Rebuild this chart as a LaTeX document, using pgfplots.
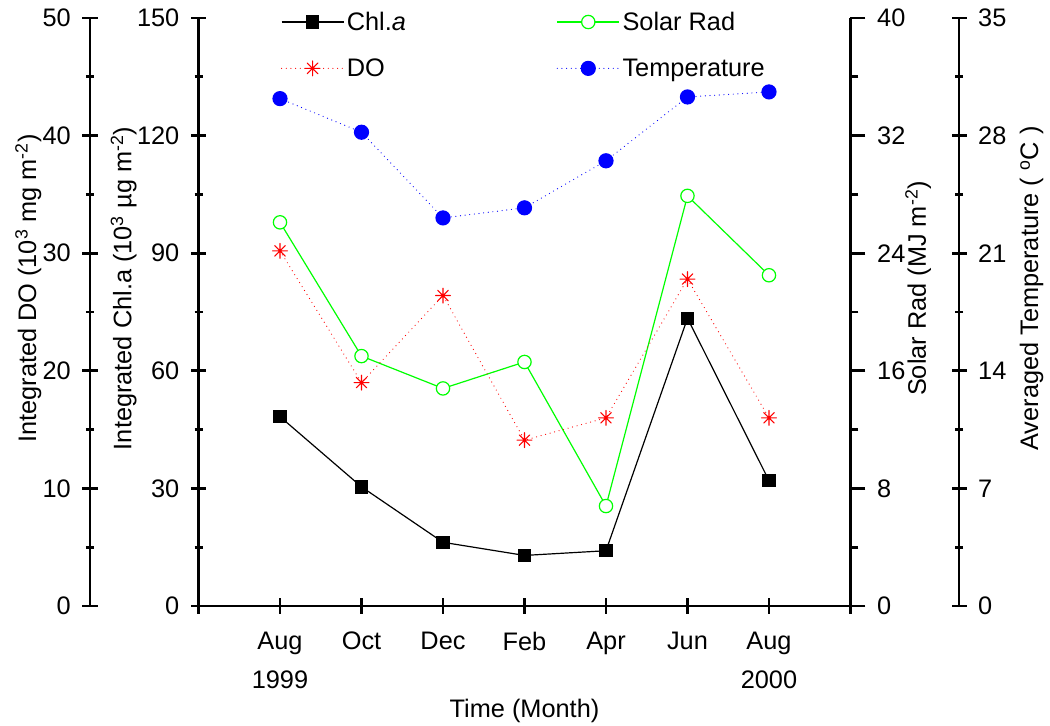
\documentclass[border=0pt]{standalone}
\usepackage{fontspec}
\setmainfont{Liberation Sans}
\usepackage{pgfplots}
\pgfplotsset{compat=1.18}

\newlength{\px}
\setlength{\px}{0.75pt}

% 8-spoke asterisk (Origin style)
\pgfdeclareplotmark{ast8}{%
  \pgfpathmoveto{\pgfqpoint{-\pgfplotmarksize}{0pt}}%
  \pgfpathlineto{\pgfqpoint{\pgfplotmarksize}{0pt}}%
  \pgfpathmoveto{\pgfqpoint{0pt}{-\pgfplotmarksize}}%
  \pgfpathlineto{\pgfqpoint{0pt}{\pgfplotmarksize}}%
  \pgfpathmoveto{\pgfqpoint{-0.707\pgfplotmarksize}{-0.707\pgfplotmarksize}}%
  \pgfpathlineto{\pgfqpoint{0.707\pgfplotmarksize}{0.707\pgfplotmarksize}}%
  \pgfpathmoveto{\pgfqpoint{-0.707\pgfplotmarksize}{0.707\pgfplotmarksize}}%
  \pgfpathlineto{\pgfqpoint{0.707\pgfplotmarksize}{-0.707\pgfplotmarksize}}%
  \pgfusepathqstroke}

\pgfplotsset{
  base/.style={
    scale only axis, anchor=south west, height=588\px,
    font=\fontsize{19}{23}\selectfont,
    /pgf/number format/assume math mode=true,
    tick align=outside,
    major tick length=15\px, minor tick length=8\px,
    every tick/.style={black, line width=2pt},
    tick label style={font=\fontsize{19}{29}\selectfont},
  },
  noarrows/.style={axis line style={-, line width=2pt}},
  lefttl/.style={yticklabel style={xshift=-7\px}},
  righttl/.style={yticklabel style={xshift=7\px}},
  data/.style={base, at={(198.5\px,119\px)}, width=652\px,
    xmin=-1, xmax=7, hide x axis, hide y axis},
  chl/.style={black, line width=0.9pt, mark=square*, mark size=4.6pt,
    mark options={solid, fill=black}},
  sol/.style={green, line width=0.9pt, mark=*, mark size=5pt,
    mark options={solid, fill=white}},
  do/.style={red, line width=0.9pt, line cap=round, dash pattern=on 0pt off 3.5pt,
    mark=ast8, mark size=5.6pt, mark options={solid, line width=0.8pt}},
  tmp/.style={blue, line width=0.9pt, line cap=round, dash pattern=on 0pt off 3.5pt,
    mark=*, mark size=5.25pt, mark options={solid}},
}

\begin{document}
\begin{tikzpicture}
\useasboundingbox (0,0) rectangle (1050\px,725\px);

% DO axis (far left)
\begin{axis}[base, at={(90\px,119\px)}, width=760.5\px,
  xmin=0, xmax=1, ymin=0, ymax=50,
  hide x axis, axis y line=left, noarrows, lefttl,
  ytick={0,10,...,50}, minor ytick={5,15,...,45},
  ylabel={Integrated DO (10\textsuperscript{3} mg m\textsuperscript{-2})},
  ylabel style={at={(axis description cs:-0.071,0.54)}, anchor=base}]
\end{axis}

% Temperature axis (far right)
\begin{axis}[base, at={(198.5\px,119\px)}, width=760.5\px,
  xmin=0, xmax=1, ymin=0, ymax=35,
  hide x axis, axis y line=right, noarrows, righttl,
  ytick={0,7,...,35}, minor ytick={3.5,10.5,...,31.5},
  ylabel={Averaged Temperature ( \textsuperscript{o}C )},
  ylabel style={at={(axis description cs:1.104,0.54)}, anchor=base}]
\end{axis}

% Solar Rad axis
\begin{axis}[base, at={(198.5\px,119\px)}, width=652\px,
  xmin=-1, xmax=7, ymin=0, ymax=40,
  hide x axis, axis y line*=right, noarrows, righttl,
  ytick={0,8,...,40}, minor ytick={4,12,...,36},
  ylabel={Solar Rad (MJ m\textsuperscript{-2})},
  ylabel style={at={(axis description cs:1.1158,0.54)}, anchor=base}]
\addplot[sol] coordinates {(0,26.1) (1,17.0) (2,14.8) (3,16.6) (4,6.8) (5,27.9) (6,22.5)};
\end{axis}

% DO data
\begin{axis}[data, ymin=0, ymax=50]
\addplot[do] coordinates {(0,30.2) (1,19.0) (2,26.4) (3,14.1) (4,16.0) (5,27.8) (6,16.0)};
\end{axis}

% Temperature data
\begin{axis}[data, ymin=0, ymax=35]
\addplot[tmp] coordinates {(0,30.2) (1,28.2) (2,23.1) (3,23.7) (4,26.5) (5,30.3) (6,30.6)};
\end{axis}

% main Chl.a axis
\begin{axis}[base, at={(198.5\px,119\px)}, width=652\px,
  xmin=-1, xmax=7, ymin=0, ymax=150,
  axis x line=bottom, axis y line=left, noarrows, lefttl,
  xtick={-1,0,...,7},
  xticklabels={,{Aug\\1999},Oct,Dec,Feb,Apr,Jun,{Aug\\2000},},
  xticklabel style={align=center, yshift=-14\px},
  ytick={0,30,...,150}, minor ytick={15,45,...,135},
  xlabel={Time (Month)},
  xlabel style={at={(axis description cs:0.5,0)}, anchor=base, yshift=-111\px},
  ylabel={Integrated Chl.a (10\textsuperscript{3} µg m\textsuperscript{-2})},
  ylabel style={at={(axis description cs:-0.1028,0.54)}, anchor=base},
  legend columns=2, legend cell align=left,
  legend style={draw=none, fill=none, at={(axis description cs:0.12,1.02)},
    anchor=north west, row sep=21\px,
    /tikz/every even column/.append style={column sep=148\px},
    font=\fontsize{19}{23}\selectfont},
  legend image code/.code={\draw[mark repeat=2,mark phase=2]
    plot coordinates {(0pt,0pt) (23.25pt,0pt) (46.5pt,0pt)};}]
\addplot[chl] coordinates {(0,48.3) (1,30.4) (2,16.25) (3,12.9) (4,14.1) (5,73.4) (6,32.0)};
\addlegendimage{sol}
\addlegendimage{do}
\addlegendimage{tmp}
\legend{Chl.\textit{a}, Solar Rad, DO, Temperature}
\end{axis}
\end{tikzpicture}
\end{document}
